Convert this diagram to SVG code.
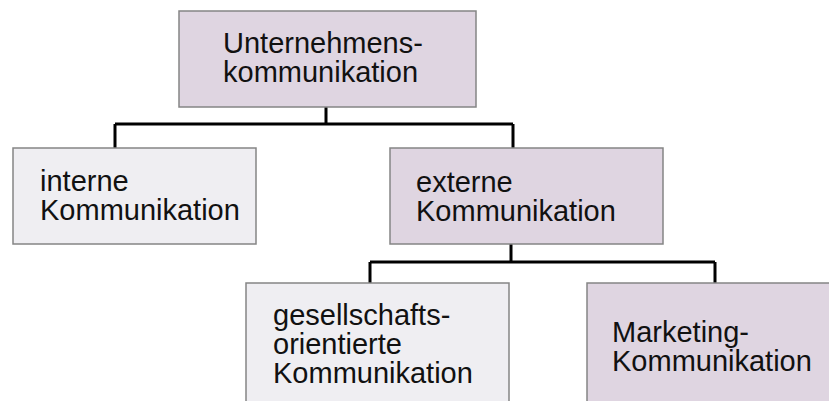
<svg xmlns="http://www.w3.org/2000/svg" width="829" height="401" viewBox="0 0 829 401">
<style>
.box{stroke:#858585;stroke-width:1.5}
.dark{fill:#dfd5e1}
.light{fill:#efeef2}
.t{font-family:"Liberation Sans",Arial,sans-serif;font-size:29px;fill:#111}
.c{fill:none;stroke:#000;stroke-width:3}
</style>
<rect width="829" height="401" fill="#fff"/>
<g id="connectors">
<path class="c" d="M326 107V124M115 124H513M115 124V148M513 124V148"/>
<path class="c" d="M511 244V262M370 262H715M370 262V283M715 262V283"/>
</g>
<g id="n-unternehmen">
<rect class="box dark" x="179" y="11" width="297" height="96"/>
<text class="t" x="223" y="53">Unternehmens-</text>
<text class="t" x="223" y="82">kommunikation</text>
</g>
<g id="n-interne">
<rect class="box light" x="13" y="148" width="243" height="96"/>
<text class="t" x="40" y="191">interne</text>
<text class="t" x="40" y="220">Kommunikation</text>
</g>
<g id="n-externe">
<rect class="box dark" x="390" y="148" width="273" height="96"/>
<text class="t" x="416" y="192">externe</text>
<text class="t" x="416" y="221">Kommunikation</text>
</g>
<g id="n-gesellschaft">
<rect class="box light" x="246" y="283" width="263" height="130"/>
<text class="t" x="273" y="325">gesellschafts-</text>
<text class="t" x="273" y="354">orientierte</text>
<text class="t" x="273" y="383">Kommunikation</text>
</g>
<g id="n-marketing">
<rect class="box dark" x="587" y="283" width="260" height="130"/>
<text class="t" x="612" y="342">Marketing-</text>
<text class="t" x="612" y="371">Kommunikation</text>
</g>
</svg>
